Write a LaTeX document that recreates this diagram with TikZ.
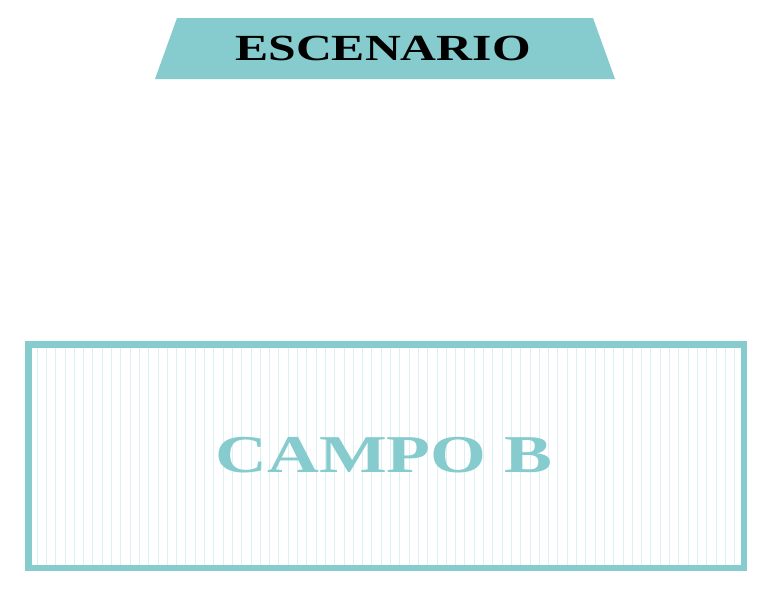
\documentclass[tikz,border=0pt]{standalone}
\usepackage{fontspec}
\setmainfont{Liberation Serif}
\definecolor{teal}{HTML}{86CBCD}
\definecolor{stripe}{HTML}{DDF0F1}
\begin{document}
\begin{tikzpicture}[x=0.75pt,y=-0.75pt,
  banner/.style={fill=teal,draw=none},
  title/.style={font=\bfseries\fontsize{30}{30}\selectfont,xscale=1.35}]
      \useasboundingbox (0,0) rectangle (773,593);
      \fill[banner] (177,18)--(593,18)--(615,79)--(155,79)--cycle;
      \node[title,scale=0.92] (esc) at (383,48) {ESCENARIO};
      \foreach \x in {37,46.3,...,736}
      \draw [stripe,line width=0.6pt] (\x,347)--(\x,566);
      \draw [teal,line width=5pt] (28.5,344.5) rectangle (744,568);
      \node[title,text=teal,scale=1.33] (campo) at (384,455) {CAMPO B};
    \end{tikzpicture}
\end{document}
